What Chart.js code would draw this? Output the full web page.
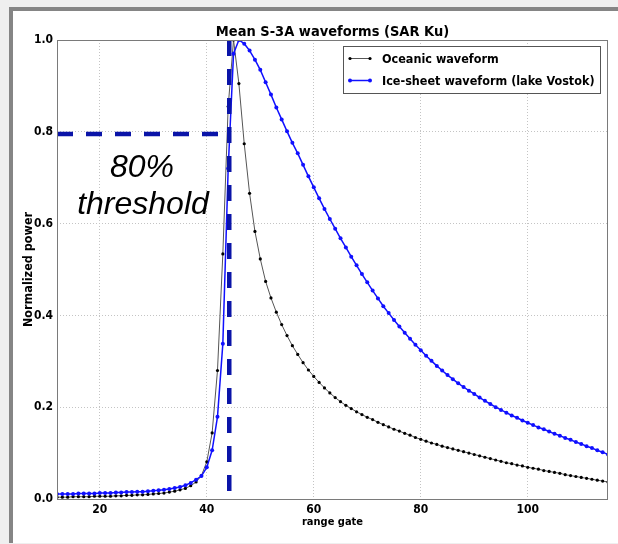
<!DOCTYPE html>
<html>
<head>
<meta charset="utf-8">
<script src="https://cdn.jsdelivr.net/npm/chart.js@4.4.0/dist/chart.umd.min.js"></script>
<style>
  body { margin: 0; background: #efefef; }
  #frame {
    position: absolute; left: 9px; top: 7px; width: 609px; height: 536px;
    box-sizing: border-box; background: #fff;
    border-left: 4px solid #858585; border-top: 4px solid #858585;
  }
  #chart { position: absolute; left: 0; top: 0; }
</style>
</head>
<body>
<div id="frame"></div>
<canvas id="chart" width="618" height="544" style="width:618px;height:544px"></canvas>
<script>
// first range gate of both waveforms; one sample per gate after that
const firstGate = 12;

// mean oceanic waveform, normalised power
const oceanic = [
  0.004, 0.004, 0.004, 0.005, 0.005, 0.005, 0.005, 0.006, 0.006, 0.006, 0.006,
  0.007, 0.007, 0.008, 0.008, 0.009, 0.009, 0.010, 0.011, 0.012, 0.013, 0.015,
  0.017, 0.020, 0.023, 0.029, 0.037, 0.051,
  0.081, 0.144, 0.280, 0.534, 0.855, 1.000, 0.905, 0.774, 0.666, 0.583, 0.523, 0.474,
  0.438, 0.407, 0.380, 0.356, 0.334, 0.315, 0.297, 0.281, 0.267, 0.254, 0.242, 0.231,
  0.221, 0.212, 0.204, 0.197, 0.190, 0.184, 0.178, 0.173, 0.167, 0.162, 0.157, 0.152,
  0.148, 0.143, 0.139, 0.134, 0.130, 0.126, 0.122, 0.119, 0.115, 0.112, 0.109, 0.106,
  0.103, 0.100, 0.097, 0.094, 0.091, 0.088, 0.085, 0.082, 0.079, 0.077, 0.074, 0.072,
  0.069, 0.067, 0.065, 0.062, 0.060, 0.058, 0.056, 0.053, 0.051, 0.049, 0.047, 0.045,
  0.043, 0.041, 0.039, 0.037
];

// mean ice-sheet waveform over lake Vostok
const iceSheet = [
  0.011, 0.011, 0.011, 0.011, 0.012, 0.012, 0.012, 0.012, 0.013, 0.013, 0.013,
  0.014, 0.014, 0.015, 0.015, 0.016, 0.016, 0.017, 0.018, 0.019, 0.020, 0.022,
  0.024, 0.026, 0.030, 0.035, 0.042, 0.050,
  0.069, 0.106, 0.179, 0.338, 0.720, 0.970, 1.000, 0.992, 0.977, 0.957, 0.935, 0.908,
  0.881, 0.853, 0.827, 0.801, 0.776, 0.753, 0.728, 0.703, 0.679, 0.655, 0.632, 0.610,
  0.589, 0.568, 0.548, 0.528, 0.509, 0.490, 0.472, 0.454, 0.437, 0.420, 0.405, 0.390,
  0.376, 0.362, 0.349, 0.336, 0.324, 0.312, 0.301, 0.290, 0.280, 0.270, 0.261, 0.252,
  0.244, 0.236, 0.229, 0.221, 0.214, 0.207, 0.200, 0.194, 0.188, 0.182, 0.177, 0.171,
  0.166, 0.161, 0.156, 0.152, 0.147, 0.142, 0.138, 0.133, 0.129, 0.124, 0.120, 0.115,
  0.111, 0.106, 0.102, 0.097
];

// 80% retracking threshold: gate where it is reached and the power level
const thresholdGate = [44.2, 44.2];
const thresholdSpan = [1.0, 0.013];
const thresholdLevel = [0.795, 0.795];
const thresholdReach = [12, 42.5];

const xTicks = [20, 40, 60, 80, 100];
const yTicks = [0.0, 0.2, 0.4, 0.6, 0.8, 1.0];

const gates = oceanic.map((_, i) => firstGate + i);
const toPoints = (xs, ys) => xs.map((x, i) => ({ x: x, y: ys[i] }));

const FONT = '"DejaVu Sans Condensed", "Liberation Sans", sans-serif';
const DASH = '#0a14a8';

const overlay = {
    id: 'overlay',
    afterDraw(chart) {
        const { ctx, chartArea: a } = chart;
        ctx.save();

        // axes box
        ctx.strokeStyle = '#7a7a7a';
        ctx.lineWidth = 1;
        ctx.strokeRect(a.left + 0.5, a.top + 0.5, a.right - a.left - 1, a.bottom - a.top);

        // title
        ctx.fillStyle = '#000';
        ctx.font = 'bold 14.5px ' + FONT;
        ctx.textAlign = 'center';
        ctx.textBaseline = 'alphabetic';
        ctx.fillText('Mean S-3A waveforms (SAR Ku)', (a.left + a.right) / 2, 36);

        // threshold caption
        ctx.font = 'italic 32px "Liberation Sans", Arial, sans-serif';
        ctx.fillText('80%', 142, 177);
        ctx.fillText('threshold', 143, 214);

        // legend
        const lx = 343.5, ly = 46.5, lw = 257, lh = 47;
        ctx.fillStyle = '#fff';
        ctx.fillRect(lx, ly, lw, lh);
        ctx.strokeStyle = '#555';
        ctx.strokeRect(lx, ly, lw, lh);
        ctx.font = 'bold 12.5px ' + FONT;
        ctx.textAlign = 'left';
        ctx.textBaseline = 'middle';
        [0, 1].forEach((di, row) => {
            const ds = chart.data.datasets[di];
            const y = 58.5 + row * 22;
            ctx.strokeStyle = ds.borderColor;
            ctx.lineWidth = ds.borderWidth;
            ctx.beginPath();
            ctx.moveTo(350, y);
            ctx.lineTo(370, y);
            ctx.stroke();
            ctx.fillStyle = ds.pointBackgroundColor;
            [350, 370].forEach(px => {
                ctx.beginPath();
                ctx.arc(px, y, ds.pointRadius, 0, Math.PI * 2);
                ctx.fill();
            });
            ctx.fillStyle = '#000';
            ctx.fillText(ds.label, 382, y + 1);
        });
        ctx.restore();
    }
};

const ctx = document.getElementById('chart').getContext('2d');
new Chart(ctx, {
    type: 'line',
    data: {
        datasets: [
            {
                label: 'Oceanic waveform',
                data: toPoints(gates, oceanic),
                borderColor: '#555555',
                borderWidth: 1,
                pointBackgroundColor: '#000',
                pointBorderWidth: 0,
                pointRadius: 1.6,
                tension: 0,
                order: 2
            },
            {
                label: 'Ice-sheet waveform (lake Vostok)',
                data: toPoints(gates, iceSheet),
                borderColor: '#1010ff',
                borderWidth: 1.5,
                pointBackgroundColor: '#1010ff',
                pointBorderWidth: 0,
                pointRadius: 2,
                tension: 0,
                order: 1
            },
            {
                label: 'threshold gate',
                data: toPoints(thresholdGate, thresholdSpan),
                borderColor: DASH,
                borderWidth: 4.5,
                borderDash: [16, 13],
                pointRadius: 0,
                order: 0
            },
            {
                label: 'threshold level',
                data: toPoints(thresholdReach, thresholdLevel),
                borderColor: DASH,
                borderWidth: 4.5,
                borderDash: [16, 13],
                pointRadius: 0,
                order: 0
            }
        ]
    },
    options: {
        responsive: false,
        animation: false,
        events: [],
        layout: { padding: { left: 0, right: 10, top: 40, bottom: 0 } },
        plugins: {
            legend: { display: false },
            title: { display: false },
            tooltip: { enabled: false }
        },
        scales: {
            x: {
                type: 'linear',
                min: 12,
                max: 115,
                afterFit: s => { s.height = 45; },
                afterBuildTicks: s => { s.ticks = xTicks.map(v => ({ value: v })); },
                grid: { color: '#c4c4c4', lineWidth: 1, drawTicks: false },
                border: { display: false, dash: [1, 2] },
                ticks: {
                    color: '#000',
                    padding: 4,
                    font: { family: FONT, size: 12, weight: 'bold' },
                    callback: v => v
                },
                title: {
                    display: true,
                    text: 'range gate',
                    color: '#000',
                    font: { family: FONT, size: 11, weight: 'bold' },
                    padding: { top: 0, bottom: 15 }
                }
            },
            y: {
                min: 0,
                max: 1,
                afterFit: s => { s.width = 57; },
                afterBuildTicks: s => { s.ticks = yTicks.map(v => ({ value: v })); },
                grid: { color: '#c4c4c4', lineWidth: 1, drawTicks: false },
                border: { display: false, dash: [1, 2] },
                ticks: {
                    color: '#000',
                    padding: 4,
                    font: { family: FONT, size: 12, weight: 'bold' },
                    callback: v => v.toFixed(1)
                },
                title: {
                    display: true,
                    text: 'Normalized power',
                    color: '#000',
                    font: { family: FONT, size: 12.5, weight: 'bold' },
                    padding: { top: 21, bottom: 0 }
                }
            }
        }
    },
    plugins: [overlay]
});
</script>
</body>
</html>
